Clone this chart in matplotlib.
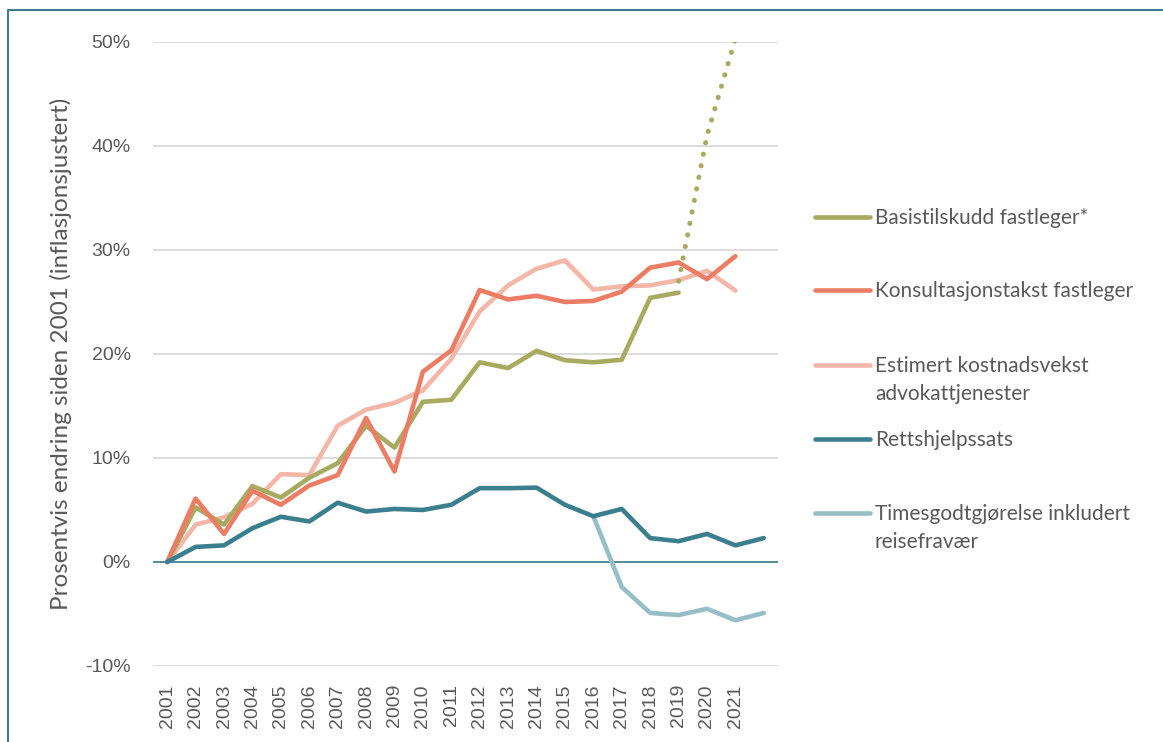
import numpy as np
import matplotlib.pyplot as plt
from matplotlib.lines import Line2D

years = list(range(2001, 2023))
year_labels = [str(y) for y in years[:-1]] + [""]
nan = np.nan

# prosentvis endring siden 2001 (inflasjonsjustert)
basistilskudd = [0, 5.25, 3.6, 7.3, 6.2, 8.1, 9.5, 13.1, 11.0, 15.4, 15.6, 19.2,
                 18.65, 20.3, 19.4, 19.2, 19.45, 25.4, 25.9, nan, nan, nan]
basistilskudd_prognose = [nan] * 18 + [27.0, 41.0, 50.3, nan]
konsultasjonstakst = [0, 6.1, 2.7, 6.85, 5.5, 7.35, 8.35, 13.85, 8.7, 18.3, 20.35, 26.15,
                      25.25, 25.6, 25.0, 25.1, 26.0, 28.3, 28.8, 27.2, 29.4, nan]
kostnadsvekst = [0, 3.6, 4.3, 5.6, 8.45, 8.35, 13.1, 14.65, 15.3, 16.5, 19.55, 24.1,
                 26.6, 28.2, 29.0, 26.2, 26.5, 26.6, 27.1, 28.0, 26.1, nan]
rettshjelpssats = [0, 1.45, 1.6, 3.25, 4.35, 3.9, 5.7, 4.85, 5.1, 5.0, 5.5, 7.1,
                   7.1, 7.15, 5.5, 4.4, 5.1, 2.3, 2.0, 2.7, 1.6, 2.3]
timesgodtgjorelse = [nan] * 15 + [4.4, -2.4, -4.9, -5.1, -4.5, -5.6, -4.9]

series = [
    ("Basistilskudd fastleger*", "#a8aa5f"),
    ("Konsultasjonstakst fastleger", "#ec7c64"),
    ("Estimert kostnadsvekst\nadvokattjenester", "#f4b6a7"),
    ("Rettshjelpssats", "#3b7f8f"),
    ("Timesgodtgjørelse inkludert\nreisefravær", "#97bdc7"),
]

grey = "#595959"
lw = 3.3

fig = plt.figure(figsize=(11.63, 7.42), dpi=100)
ax = fig.add_axes([153 / 1163, 1 - 666 / 742, 625 / 1163, 624 / 742])

x = np.arange(len(years))
ax.plot(x, kostnadsvekst, color=series[2][1], lw=lw, solid_capstyle="round", zorder=3)
ax.plot(x, basistilskudd, color=series[0][1], lw=lw, solid_capstyle="round", zorder=4)
ax.plot(x, basistilskudd_prognose, color=series[0][1], lw=3.6,
        linestyle=(0, (0.05, 2.3)), dash_capstyle="round", zorder=4)
ax.plot(x, konsultasjonstakst, color=series[1][1], lw=lw, solid_capstyle="round", zorder=5)
ax.plot(x, timesgodtgjorelse, color=series[4][1], lw=lw, solid_capstyle="round", zorder=6)
ax.plot(x, rettshjelpssats, color=series[3][1], lw=lw, solid_capstyle="round", zorder=7)

ax.axhline(0, color="#3b7f8f", lw=1.2, zorder=2)
ax.set_xlim(-0.5, len(years) - 0.5)
ax.set_ylim(-10, 50)
ax.set_yticks(np.arange(-10, 51, 10))
ax.set_yticklabels([f"{v}%" for v in range(-10, 51, 10)])
ax.set_xticks(x)
ax.set_xticklabels(year_labels, rotation=90)
ax.grid(axis="y", color="#d9d9d9", lw=1.3, zorder=0)
ax.set_axisbelow(True)
for s in ax.spines.values():
    s.set_visible(False)
ax.tick_params(axis="y", length=0, pad=16, labelsize=14, labelcolor=grey)
ax.tick_params(axis="x", length=0, pad=13, labelsize=14, labelcolor=grey)
for lab in ax.get_xticklabels() + ax.get_yticklabels():
    lab.set_family("Liberation Sans")

ax.set_ylabel("Prosentvis endring siden 2001 (inflasjonsjustert)", fontsize=17.5,
              color=grey, family="Lato")
ax.yaxis.set_label_coords(-(153 - 61) / 625, 0.5)
ax.yaxis.label.set_va("center")

# legend drawn by hand to follow the original spacing
legend_y = [217, 290, 365, 439, 513]
for (label, color), yy in zip(series, legend_y):
    yf = 1 - yy / 742
    fig.add_artist(Line2D([815 / 1163, 870 / 1163], [yf, yf], color=color, lw=lw,
                          solid_capstyle="round", transform=fig.transFigure))
    for k, line in enumerate(label.split("\n")):
        fig.text(875 / 1163, 1 - (yy + 7 + 28 * k) / 742, line, fontsize=15,
                 color=grey, family="Lato", va="baseline", ha="left")

# frame around figure
fig.add_artist(Line2D([8 / 1163, 8 / 1163, 1.0], [0, 1 - 10 / 742, 1 - 10 / 742],
                      color="#3b7f8f", lw=1.5, transform=fig.transFigure))

fig.savefig("out.png", dpi=100)
